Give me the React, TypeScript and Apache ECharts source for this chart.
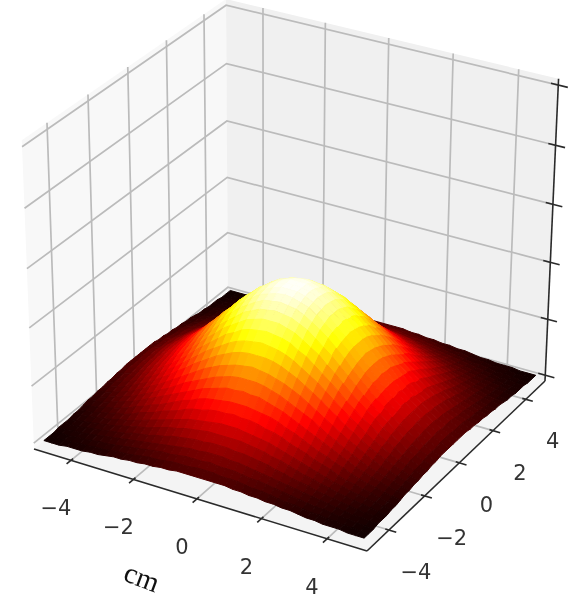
import React, { useEffect, useRef } from "react";
import * as echarts from "echarts";

const tickValues = [-4, -2, 0, 2, 4];
const tickLabels = ["\u22124", "\u22122", "0", "2", "4"];
const zTicks = [0, 46, 92, 138, 184, 230];
const xyLimit = 5.2;
const zLimits = [-4.8, 234.8];
const axisValues = [-5,-4.75,-4.5,-4.25,-4,-3.75,-3.5,-3.25,-3,-2.75,-2.5,-2.25,-2,-1.75,-1.5,-1.25,-1,-0.75,-0.5,-0.25,0,0.25,0.5,0.75,1,1.25,1.5,1.75,2,2.25,2.5,2.75,3,3.25,3.5,3.75,4,4.25,4.5,4.75,5];
const surfaceZ = [
[1,1,1,2,2,2,3,3,4,5,5,6,6,7,7,8,8,9,9,9,9,9,9,9,8,8,7,7,6,6,5,5,4,3,3,2,2,2,1,1,1],
[1,1,2,2,3,3,4,4,5,6,6,7,8,9,9,10,11,11,11,12,12,12,11,11,11,10,9,9,8,7,6,6,5,4,4,3,3,2,2,1,1],
[1,2,2,3,3,4,5,5,6,7,8,9,10,11,12,12,13,14,14,14,15,14,14,14,13,12,12,11,10,9,8,7,6,5,5,4,3,3,2,2,1],
[2,2,3,3,4,5,6,7,8,9,10,11,12,13,14,15,16,17,17,18,18,18,17,17,16,15,14,13,12,11,10,9,8,7,6,5,4,3,3,2,2],
[2,3,3,4,5,6,7,8,9,11,12,13,15,16,18,19,20,21,21,22,22,22,21,21,20,19,18,16,15,13,12,11,9,8,7,6,5,4,3,3,2],
[2,3,4,5,6,7,8,10,11,13,14,16,18,20,21,23,24,25,26,26,26,26,26,25,24,23,21,20,18,16,14,13,11,10,8,7,6,5,4,3,2],
[3,4,5,6,7,8,10,11,13,15,17,19,21,23,25,27,28,29,30,31,31,31,30,29,28,27,25,23,21,19,17,15,13,11,10,8,7,6,5,4,3],
[3,4,5,7,8,10,11,13,16,18,20,23,25,27,30,32,33,35,36,36,37,36,36,35,33,32,30,27,25,23,20,18,16,13,11,10,8,7,5,4,3],
[4,5,6,8,9,11,13,16,18,21,23,26,29,32,34,37,39,40,41,42,42,42,41,40,39,37,34,32,29,26,23,21,18,16,13,11,9,8,6,5,4],
[5,6,7,9,11,13,15,18,21,24,27,30,33,36,39,42,44,46,48,48,49,48,48,46,44,42,39,36,33,30,27,24,21,18,15,13,11,9,7,6,5],
[5,6,8,10,12,14,17,20,23,27,30,34,38,41,44,47,50,52,54,55,55,55,54,52,50,47,44,41,38,34,30,27,23,20,17,14,12,10,8,6,5],
[6,7,9,11,13,16,19,23,26,30,34,38,42,46,50,53,56,58,60,61,62,61,60,58,56,53,50,46,42,38,34,30,26,23,19,16,13,11,9,7,6],
[6,8,10,12,15,18,21,25,29,33,38,42,47,51,55,59,62,65,67,68,68,68,67,65,62,59,55,51,47,42,38,33,29,25,21,18,15,12,10,8,6],
[7,9,11,13,16,20,23,27,32,36,41,46,51,56,60,64,68,71,73,74,75,74,73,71,68,64,60,56,51,46,41,36,32,27,23,20,16,13,11,9,7],
[7,9,12,14,18,21,25,30,34,39,44,50,55,60,65,70,73,77,79,80,81,80,79,77,73,70,65,60,55,50,44,39,34,30,25,21,18,14,12,9,7],
[8,10,12,15,19,23,27,32,37,42,47,53,59,64,70,74,78,82,84,86,86,86,84,82,78,74,70,64,59,53,47,42,37,32,27,23,19,15,12,10,8],
[8,11,13,16,20,24,28,33,39,44,50,56,62,68,73,78,83,86,89,90,91,90,89,86,83,78,73,68,62,56,50,44,39,33,28,24,20,16,13,11,8],
[9,11,14,17,21,25,29,35,40,46,52,58,65,71,77,82,86,90,93,94,95,94,93,90,86,82,77,71,65,58,52,46,40,35,29,25,21,17,14,11,9],
[9,11,14,17,21,26,30,36,41,48,54,60,67,73,79,84,89,93,95,97,98,97,95,93,89,84,79,73,67,60,54,48,41,36,30,26,21,17,14,11,9],
[9,12,14,18,22,26,31,36,42,48,55,61,68,74,80,86,90,94,97,99,99,99,97,94,90,86,80,74,68,61,55,48,42,36,31,26,22,18,14,12,9],
[9,12,15,18,22,26,31,37,42,49,55,62,68,75,81,86,91,95,98,99,100,99,98,95,91,86,81,75,68,62,55,49,42,37,31,26,22,18,15,12,9],
[9,12,14,18,22,26,31,36,42,48,55,61,68,74,80,86,90,94,97,99,99,99,97,94,90,86,80,74,68,61,55,48,42,36,31,26,22,18,14,12,9],
[9,11,14,17,21,26,30,36,41,48,54,60,67,73,79,84,89,93,95,97,98,97,95,93,89,84,79,73,67,60,54,48,41,36,30,26,21,17,14,11,9],
[9,11,14,17,21,25,29,35,40,46,52,58,65,71,77,82,86,90,93,94,95,94,93,90,86,82,77,71,65,58,52,46,40,35,29,25,21,17,14,11,9],
[8,11,13,16,20,24,28,33,39,44,50,56,62,68,73,78,83,86,89,90,91,90,89,86,83,78,73,68,62,56,50,44,39,33,28,24,20,16,13,11,8],
[8,10,12,15,19,23,27,32,37,42,47,53,59,64,70,74,78,82,84,86,86,86,84,82,78,74,70,64,59,53,47,42,37,32,27,23,19,15,12,10,8],
[7,9,12,14,18,21,25,30,34,39,44,50,55,60,65,70,73,77,79,80,81,80,79,77,73,70,65,60,55,50,44,39,34,30,25,21,18,14,12,9,7],
[7,9,11,13,16,20,23,27,32,36,41,46,51,56,60,64,68,71,73,74,75,74,73,71,68,64,60,56,51,46,41,36,32,27,23,20,16,13,11,9,7],
[6,8,10,12,15,18,21,25,29,33,38,42,47,51,55,59,62,65,67,68,68,68,67,65,62,59,55,51,47,42,38,33,29,25,21,18,15,12,10,8,6],
[6,7,9,11,13,16,19,23,26,30,34,38,42,46,50,53,56,58,60,61,62,61,60,58,56,53,50,46,42,38,34,30,26,23,19,16,13,11,9,7,6],
[5,6,8,10,12,14,17,20,23,27,30,34,38,41,44,47,50,52,54,55,55,55,54,52,50,47,44,41,38,34,30,27,23,20,17,14,12,10,8,6,5],
[5,6,7,9,11,13,15,18,21,24,27,30,33,36,39,42,44,46,48,48,49,48,48,46,44,42,39,36,33,30,27,24,21,18,15,13,11,9,7,6,5],
[4,5,6,8,9,11,13,16,18,21,23,26,29,32,34,37,39,40,41,42,42,42,41,40,39,37,34,32,29,26,23,21,18,16,13,11,9,8,6,5,4],
[3,4,5,7,8,10,11,13,16,18,20,23,25,27,30,32,33,35,36,36,37,36,36,35,33,32,30,27,25,23,20,18,16,13,11,10,8,7,5,4,3],
[3,4,5,6,7,8,10,11,13,15,17,19,21,23,25,27,28,29,30,31,31,31,30,29,28,27,25,23,21,19,17,15,13,11,10,8,7,6,5,4,3],
[2,3,4,5,6,7,8,10,11,13,14,16,18,20,21,23,24,25,26,26,26,26,26,25,24,23,21,20,18,16,14,13,11,10,8,7,6,5,4,3,2],
[2,3,3,4,5,6,7,8,9,11,12,13,15,16,18,19,20,21,21,22,22,22,21,21,20,19,18,16,15,13,12,11,9,8,7,6,5,4,3,3,2],
[2,2,3,3,4,5,6,7,8,9,10,11,12,13,14,15,16,17,17,18,18,18,17,17,16,15,14,13,12,11,10,9,8,7,6,5,4,3,3,2,2],
[1,2,2,3,3,4,5,5,6,7,8,9,10,11,12,12,13,14,14,14,15,14,14,14,13,12,12,11,10,9,8,7,6,5,5,4,3,3,2,2,1],
[1,1,2,2,3,3,4,4,5,6,6,7,8,9,9,10,11,11,11,12,12,12,11,11,11,10,9,9,8,7,6,6,5,4,4,3,3,2,2,1,1],
[1,1,1,2,2,2,3,3,4,5,5,6,6,7,7,8,8,9,9,9,9,9,9,9,8,8,7,7,6,6,5,5,4,3,3,2,2,2,1,1,1],
];

// camera of the 3D box (elevation 30, azimuth -60, distance 10)
const boxZ = 0.49;
const topLean = 3;
const viewRaw = (q: number[]) => {
  const u = 0.866 * q[0] + 0.5 * q[1];
  const v = -0.25 * q[0] + 0.433 * q[1] + 0.866 * q[2];
  const w = 0.433 * q[0] - 0.75 * q[1] + 0.5 * q[2];
  const d = 10 - w;
  return [u / d, v / d, d];
};
const anchors: [number[], number[]][] = [
  [[-0.5, -0.5, -boxZ], [34, 449]],
  [[0.5, -0.5, -boxZ], [367, 551]],
  [[0.5, 0.5, -boxZ], [545, 381]],
];
const fit = (() => {
  const [a, b, c] = anchors.map((p) => viewRaw(p[0]));
  const det = (b[0] - a[0]) * (c[1] - a[1]) - (c[0] - a[0]) * (b[1] - a[1]);
  const solve = (k: number) => {
    const d1 = anchors[1][1][k] - anchors[0][1][k];
    const d2 = anchors[2][1][k] - anchors[0][1][k];
    const p = (d1 * (c[1] - a[1]) - d2 * (b[1] - a[1])) / det;
    const q = ((b[0] - a[0]) * d2 - (c[0] - a[0]) * d1) / det;
    return [p, q, anchors[0][1][k] - p * a[0] - q * a[1]];
  };
  return [solve(0), solve(1)];
})();
const toBox = (x: number, y: number, z: number) => [
  x / (2 * xyLimit),
  y / (2 * xyLimit),
  ((z - zLimits[0]) / (zLimits[1] - zLimits[0]) - 0.5) * 2 * boxZ,
];
const project = (x: number, y: number, z: number) => {
  const b = toBox(x, y, z);
  const r = viewRaw(b);
  const lean = topLean * (b[2] + boxZ) / (2 * boxZ);
  return [fit[0][0] * r[0] + fit[0][1] * r[1] + fit[0][2] + lean, fit[1][0] * r[0] + fit[1][1] * r[1] + fit[1][2]];
};
const depth = (x: number, y: number, z: number) => viewRaw(toBox(x, y, z))[2];

const clamp = (v: number) => Math.max(0, Math.min(1, v));
const hot = (v: number) => {
  const r = clamp(0.0416 + (v / 0.365) * 0.9584);
  const g = clamp((v - 0.365) / 0.381);
  const b = clamp((v - 0.746) / 0.254);
  return `rgb(${Math.round(r * 255)},${Math.round(g * 255)},${Math.round(b * 255)})`;
};

const L = xyLimit, Z0 = zLimits[0], Z1 = zLimits[1];
const walls = [
  { c: "#f8f8f8", p: [[-L, -L, Z0], [-L, L, Z0], [-L, L, Z1], [-L, -L, Z1]] },
  { c: "#f0f0f0", p: [[-L, L, Z0], [L, L, Z0], [L, L, Z1], [-L, L, Z1]] },
  { c: "#f4f4f4", p: [[-L, -L, Z0], [L, -L, Z0], [L, L, Z0], [-L, L, Z0]] },
];
const gridSegments: number[][][] = [];
tickValues.forEach((t) => {
  gridSegments.push([[t, -L, Z0], [t, L, Z0], [t, L, Z1]]);
  gridSegments.push([[L, t, Z0], [-L, t, Z0], [-L, t, Z1]]);
});
zTicks.forEach((t) => gridSegments.push([[-L, -L, t], [-L, L, t], [L, L, t]]));
const axisSegments: number[][][] = [
  [[-L, -L, Z0], [L, -L, Z0]],
  [[L, -L, Z0], [L, L, Z0]],
  [[L, L, Z0], [L, L, Z1]],
];
const tk = 0.22;
tickValues.forEach((t) => {
  axisSegments.push([[t, -L - tk, Z0], [t, -L + tk * 0.5, Z0]]);
  axisSegments.push([[L + tk, t, Z0], [L - tk * 0.5, t, Z0]]);
});
zTicks.forEach((t) => axisSegments.push([[L - tk, L, t], [L + tk * 1.3, L, t]]));

const cells: number[][] = [];
for (let j = 0; j < axisValues.length - 1; j++)
  for (let i = 0; i < axisValues.length - 1; i++) cells.push([i, j]);
const cellDepth = (c: number[]) => depth((axisValues[c[0]] + axisValues[c[0] + 1]) / 2, (axisValues[c[1]] + axisValues[c[1] + 1]) / 2, surfaceZ[c[1]][c[0]]);
cells.sort((a, b) => cellDepth(b) - cellDepth(a));

const labels = [
  ...tickValues.map((t, k) => ({ text: tickLabels[k], p: [t, -L, Z0], dx: -15, dy: 48 })),
  ...tickValues.map((t, k) => ({ text: tickLabels[k], p: [L, t, Z0], dx: 27, dy: 42 })),
];

function App() {
  const ref = useRef<HTMLDivElement>(null);
  useEffect(() => {
    document.body.style.margin = "0";
    const chart = echarts.init(ref.current!, undefined, { renderer: "svg" });
    const pts = (api: any, list: number[][]) => list.map((p) => api.coord(project(p[0], p[1], p[2])));
    chart.setOption({
      animation: false,
      backgroundColor: "#ffffff",
      grid: { left: 0, right: 0, top: 0, bottom: 0 },
      xAxis: { type: "value", min: 0, max: 587, show: false },
      yAxis: { type: "value", min: 0, max: 601, inverse: true, show: false },
      series: [
        {
          type: "custom", coordinateSystem: "cartesian2d", silent: true, clip: false, z: 1,
          data: walls.map((_, k) => [k]),
          renderItem: (params: any, api: any) => ({
            type: "polygon",
            shape: { points: pts(api, walls[params.dataIndex].p) },
            style: { fill: walls[params.dataIndex].c, stroke: "none" },
          }),
        },
        {
          type: "custom", coordinateSystem: "cartesian2d", silent: true, clip: false, z: 2,
          data: gridSegments.map((_, k) => [k]),
          renderItem: (params: any, api: any) => ({
            type: "polyline",
            shape: { points: pts(api, gridSegments[params.dataIndex]) },
            style: { fill: "none", stroke: "#bbbbbb", lineWidth: 1.7 },
          }),
        },
        {
          type: "custom", coordinateSystem: "cartesian2d", silent: true, clip: false, z: 3,
          data: axisSegments.map((_, k) => [k]),
          renderItem: (params: any, api: any) => ({
            type: "polyline",
            shape: { points: pts(api, axisSegments[params.dataIndex]) },
            style: { fill: "none", stroke: "#2a2a2a", lineWidth: 1.6 },
          }),
        },
        {
          type: "custom", coordinateSystem: "cartesian2d", silent: true, clip: false, z: 4,
          data: cells,
          renderItem: (params: any, api: any) => {
            const [i, j] = cells[params.dataIndex];
            const xs = axisValues, Zt = surfaceZ;
            const corners = [
              [xs[i], xs[j], Zt[j][i]],
              [xs[i + 1], xs[j], Zt[j][i + 1]],
              [xs[i + 1], xs[j + 1], Zt[j + 1][i + 1]],
              [xs[i], xs[j + 1], Zt[j + 1][i]],
            ];
            const avg = (corners[0][2] + corners[1][2] + corners[2][2] + corners[3][2]) / 400;
            const col = hot(avg);
            return {
              type: "polygon",
              shape: { points: pts(api, corners) },
              style: { fill: col, stroke: col, lineWidth: 1 },
            };
          },
        },
        {
          type: "custom", coordinateSystem: "cartesian2d", silent: true, clip: false, z: 5,
          data: [...labels.map((_, k) => [k]), [labels.length]],
          renderItem: (params: any, api: any) => {
            if (params.dataIndex === labels.length) {
              return {
                type: "text", x: 142, y: 577, rotation: -0.36,
                style: { text: "cm", fill: "#111111", font: "29px 'Liberation Serif'", align: "center", verticalAlign: "middle" },
              };
            }
            const l = labels[params.dataIndex];
            const c = api.coord(project(l.p[0], l.p[1], l.p[2]));
            return {
              type: "text", x: c[0] + l.dx, y: c[1] + l.dy,
              style: { text: l.text, fill: "#333333", font: "21px 'DejaVu Sans'", align: "center", verticalAlign: "middle" },
            };
          },
        },
      ],
    });
    return () => chart.dispose();
  }, []);
  return <div ref={ref} style={{ width: 587, height: 601, filter: "blur(0.5px)" }} />;
}

export default App;
